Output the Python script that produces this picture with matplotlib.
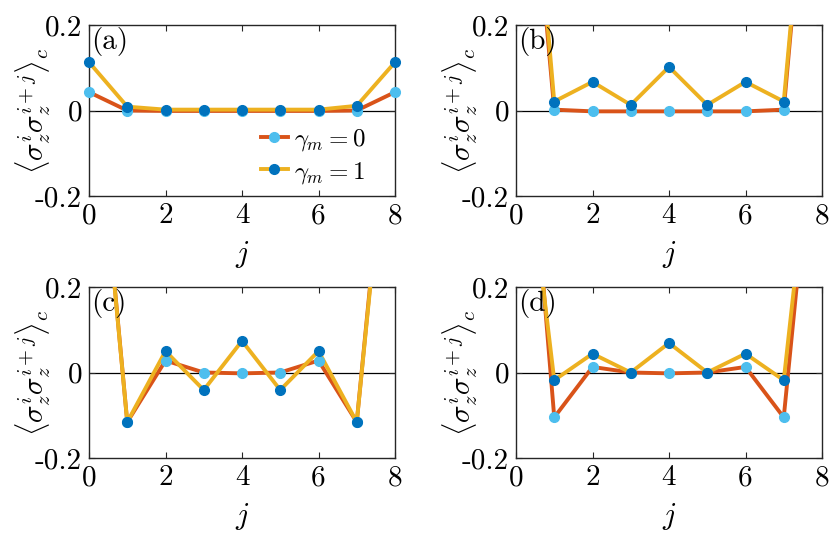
import numpy as np
import matplotlib
matplotlib.use('Agg')
import matplotlib.pyplot as plt

plt.rcParams['font.family'] = 'serif'
plt.rcParams['font.serif'] = ['cmr10']
plt.rcParams['mathtext.fontset'] = 'cm'
plt.rcParams['axes.unicode_minus'] = False

j = np.arange(9)

# correlations, gamma_m = 0 and gamma_m = 1, per panel
a_g0 = [0.043, 0.0, -0.001, -0.001, -0.001, -0.001, -0.001, 0.0, 0.043]
a_g1 = [0.113, 0.009, 0.002, 0.002, 0.002, 0.002, 0.002, 0.011, 0.113]
b_g0 = [1.0, 0.002, -0.002, -0.002, -0.002, -0.002, -0.002, 0.002, 1.0]
b_g1 = [1.05, 0.021, 0.067, 0.013, 0.102, 0.013, 0.067, 0.021, 1.0]
c_g0 = [0.85, -0.116, 0.028, 0.0, -0.002, 0.0, 0.028, -0.116, 0.8]
c_g1 = [0.84, -0.116, 0.050, -0.041, 0.074, -0.041, 0.050, -0.116, 0.78]
d_g0 = [0.98, -0.105, 0.013, 0.0, -0.002, 0.0, 0.013, -0.105, 0.8]
d_g1 = [0.73, -0.018, 0.044, 0.0, 0.069, 0.0, 0.044, -0.018, 0.79]

panels = [('(a)', a_g0, a_g1), ('(b)', b_g0, b_g1),
          ('(c)', c_g0, c_g1), ('(d)', d_g0, d_g1)]

xticks = [0, 2, 4, 6, 8]
yticks = [-0.2, 0, 0.2]
yticklabels = ['-0.2', '0', '0.2']

red, yellow = '#D95319', '#EDB120'
dblue, lblue = '#0072BD', '#4DBEEE'

W, H = 830, 546
fig = plt.figure(figsize=(W / 100, H / 100), dpi=100)
boxes = [(89, 25), (516, 25), (89, 287), (516, 287)]
aw, ah = 306, 171
ymin, ymax = -0.2, 0.2


def visible(v):
    v = np.asarray(v, dtype=float)
    return np.where((v >= ymin) & (v <= ymax), v, np.nan)


for (lab, g0, g1), (x0, y0) in zip(panels, boxes):
    ax = fig.add_axes([x0 / W, (H - y0 - ah) / H, aw / W, ah / H])
    ax.axhline(0, color='black', lw=0.9, zorder=1)
    # lines (clipped) then markers (unclipped, only inside y range)
    ax.plot(j, g0, color=red, lw=2.8, zorder=3)
    ax.plot(j, g1, color=yellow, lw=2.8, zorder=4)
    ax.plot(j, visible(g0), ls='none', marker='o', ms=7, mfc=lblue,
            mec=lblue, clip_on=False, zorder=5)
    ax.plot(j, visible(g1), ls='none', marker='o', ms=7, mfc=dblue,
            mec=dblue, clip_on=False, zorder=6)
    ax.set_xlim(0, 8)
    ax.set_ylim(ymin, ymax)
    ax.set_xticks(xticks)
    ax.set_xticklabels([str(t) for t in xticks])
    ax.set_yticks(yticks)
    ax.set_yticklabels(yticklabels)
    ax.tick_params(direction='in', top=True, right=True, labelsize=21,
                   length=4, width=0.8, color='#262626', pad=5)
    for s in ax.spines.values():
        s.set_color('#262626')
        s.set_linewidth(1.0)
    ax.set_xlabel(r'$j$', fontsize=22, labelpad=7)
    ax.set_ylabel(r'$\langle\sigma_z^i\sigma_z^{i+j}\rangle_c$', fontsize=21)
    ax.yaxis.set_label_coords(-0.118, 0.5)
    ax.text(0.008, 0.99, lab, transform=ax.transAxes, fontsize=21,
            va='top', ha='left', zorder=7)
    if lab == '(a)':
        h0, = ax.plot([], [], color=red, lw=2.8, marker='o', ms=7,
                      mfc=lblue, mec=lblue)
        h1, = ax.plot([], [], color=yellow, lw=2.8, marker='o', ms=7,
                      mfc=dblue, mec=dblue)
        ax.legend([h0, h1], [r'$\gamma_m=0$', r'$\gamma_m=1$'],
                  loc='lower right', frameon=False, fontsize=18,
                  handlelength=1.1, handletextpad=0.25, labelspacing=0.25,
                  borderpad=0, borderaxespad=0,
                  bbox_to_anchor=(0.905, 0.06))

plt.savefig('out.png', dpi=100)
